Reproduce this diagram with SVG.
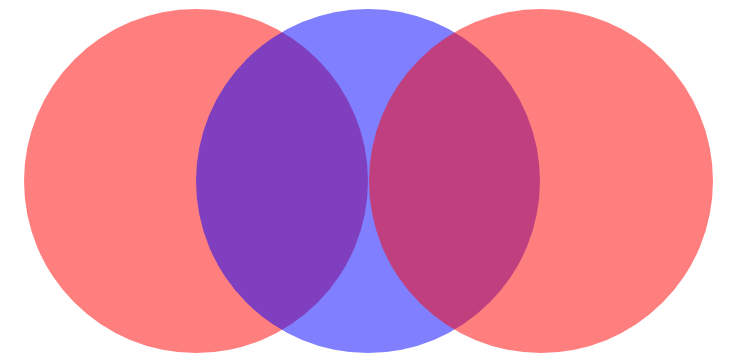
<svg xmlns="http://www.w3.org/2000/svg" width="733" height="356" viewBox="0 0 733 356">
<style>
.red{fill:#ff0000;fill-opacity:0.5}
.blue{fill:#0000ff;fill-opacity:0.5}
</style>
<rect width="733" height="356" fill="#ffffff"/>
<g id="circle-left"><circle class="red" cx="196" cy="181" r="172"/></g>
<g id="circle-middle"><circle class="blue" cx="368" cy="181" r="172"/></g>
<g id="circle-right"><circle class="red" cx="541" cy="181" r="172"/></g>
<g id="connectors"></g>
</svg>
